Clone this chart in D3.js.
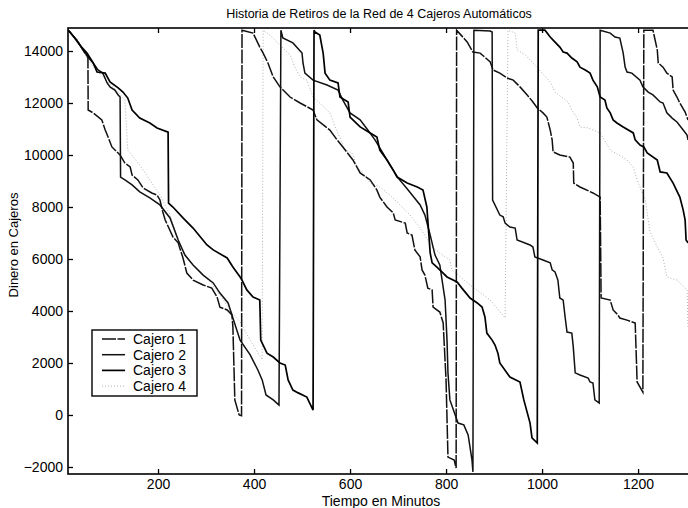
<!DOCTYPE html>
<html>
<head>
<meta charset="utf-8">
<script src="https://cdn.jsdelivr.net/npm/d3@7"></script>
<style>
  body { margin: 0; background: #fff; }
  svg { display: block; font-family: "Liberation Sans", Arial, sans-serif; }
</style>
</head>
<body>
<svg id="chart" width="688" height="508"></svg>
<script>
// Tick values and labels
const xTicks = [200, 400, 600, 800, 1000, 1200];
const yTicks = [-2000, 0, 2000, 4000, 6000, 8000, 10000, 12000, 14000];
const seriesNames = ['Cajero 1', 'Cajero 2', 'Cajero 3', 'Cajero 4'];

// [minuto, dinero]
const cajero1 = [
  [12.5, 14800], [31, 14420], [44, 14040], [54, 13770], [54.5, 11730], [65, 11620], [83, 11350],
  [90, 10960], [96, 10690], [104, 10310], [121, 10000], [131, 9690], [142, 9540], [146, 9230],
  [158, 9040], [169, 8730], [187, 8540], [198, 8460], [204, 8270], [210, 7810], [215, 7500],
  [231, 6850], [242, 6620], [252, 6040], [260, 5460], [273, 5190], [294, 5000], [312, 4880],
  [323, 4540], [329, 4150], [344, 4040], [354, 3850], [356, 3380], [360, 580], [369, 0],
  [374, -30], [375, 14800],
  [398, 14690], [412, 14150], [419, 13920], [429, 13540], [440, 13000], [454, 12620], [475, 12230],
  [496, 12000], [523, 11730], [531, 11350], [558, 10960], [573, 10580], [585, 10310], [606, 9810],
  [621, 9310], [642, 9040], [656, 8650], [662, 8380], [677, 8000], [690, 7770], [694, 7500],
  [715, 7380], [719, 7000], [729, 6920], [735, 6350], [746, 6080], [750, 5580], [756, 5380],
  [762, 4880], [771, 4810], [773, 4150], [787, 3960], [794, 3540], [800, 1350], [804, -1620],
  [817, -1730], [821, -2040], [822, 14800],
  [844, 14350], [856, 13960], [871, 13920], [892, 13580], [898, 13270], [912, 13150], [927, 12960],
  [940, 12880], [954, 12620], [969, 12310], [981, 12040], [990, 11810], [1002, 11620], [1010, 11460],
  [1017, 10960], [1021, 10580], [1023, 10120], [1037, 10000], [1058, 9920], [1065, 9690],
  [1066, 8920], [1079, 8770], [1106, 8540], [1121, 8380], [1123, 4500], [1142, 4420], [1148, 4040],
  [1158, 3850], [1162, 3730], [1177, 3650], [1194, 3540], [1198, 1270], [1210, 880], [1212, 14800],
  [1231, 14800], [1240, 14040], [1242, 13540], [1252, 13380], [1260, 13150], [1271, 13000],
  [1273, 12500], [1281, 12230], [1287, 12000], [1298, 11650], [1304, 11350]
];

const cajero2 = [
  [12.5, 14800], [31, 14420], [44, 14040], [54, 13770], [65, 13540], [75, 13270], [85, 13150],
  [94, 12770], [100, 12620], [110, 12500], [117, 12310], [121, 12230], [122, 9150], [131, 9040],
  [146, 8850], [162, 8580], [183, 8350], [204, 8080], [225, 7580], [242, 6730], [256, 6150],
  [273, 5770], [294, 5380], [315, 5080], [329, 4690], [346, 4310], [356, 3730], [371, 2880],
  [392, 2310], [408, 1730], [417, 1350], [425, 770], [440, 580], [452, 380], [456, 14800],
  [460, 14500], [481, 14310], [500, 13920], [502, 13540], [506, 13150], [523, 12880], [552, 12690],
  [575, 12500], [585, 12110], [600, 11620], [621, 11350], [637, 10960], [652, 10580], [667, 10120],
  [683, 9620], [700, 9120], [721, 8650], [746, 8080], [756, 7690], [767, 6920], [777, 6150],
  [787, 5770], [798, 4420], [802, 2880], [804, 1620], [808, 580], [825, -310], [837, -380],
  [846, -770], [854, -1730], [856, -2190], [858, 14800],
  [892, 14770], [896, 14730], [897, 8270], [912, 7690], [919, 7620], [923, 7380], [933, 7230],
  [944, 7190], [948, 6730], [975, 6540], [981, 6460], [985, 6080], [1002, 5960], [1017, 5850],
  [1021, 5580], [1027, 5500], [1033, 5190], [1037, 4500], [1044, 4420], [1048, 3770], [1052, 3190],
  [1062, 3150], [1065, 2620], [1069, 1620], [1079, 1540], [1096, 1420], [1100, 1270], [1106, 1230],
  [1110, 580], [1119, 460], [1121, 14800],
  [1142, 14690], [1152, 14540], [1162, 14500], [1169, 13920], [1173, 13380], [1177, 13190],
  [1187, 13150], [1204, 12880], [1210, 12620], [1221, 12420], [1231, 12310], [1246, 12040],
  [1252, 12000], [1260, 11620], [1271, 11420], [1281, 11270], [1294, 10960], [1302, 10770],
  [1304, 10580]
];

const cajero3 = [
  [12.5, 14800], [17, 14730], [37, 14230], [52, 13920], [65, 13540], [73, 13190], [90, 13150],
  [100, 12810], [117, 12580], [127, 12420], [137, 12190], [146, 11730], [162, 11420], [183, 11230],
  [198, 11040], [221, 10880], [222, 8150], [231, 8000], [252, 7580], [273, 7190], [302, 6540],
  [315, 6350], [344, 6040], [356, 5690], [371, 5310], [375, 5190], [385, 4810], [398, 4540],
  [412, 4420], [414, 2880], [427, 2380], [440, 2230], [454, 2000], [465, 1920], [471, 1350],
  [481, 960], [492, 850], [510, 690], [523, 190], [525, 14800],
  [527, 14730], [537, 14615], [544, 13920], [548, 13150], [558, 12880], [575, 12770], [579, 12230],
  [596, 12040], [600, 11460], [621, 11080], [642, 10850], [656, 10690], [662, 10190], [677, 9810],
  [690, 9420], [698, 9150], [719, 8920], [740, 8770], [752, 8650], [760, 8000], [767, 6230],
  [771, 5850], [781, 5690], [794, 5460], [802, 5310], [823, 5120], [833, 4880], [850, 4500],
  [865, 4310], [875, 4150], [881, 3770], [885, 3150], [896, 2880], [902, 2690], [908, 2380],
  [912, 2000], [933, 1460], [954, 1270], [962, 580], [975, -310], [979, -880], [990, -1080],
  [992, 14800],
  [1006, 14800], [1017, 14540], [1023, 14420], [1037, 14150], [1044, 13960], [1052, 13920],
  [1062, 13730], [1073, 13580], [1079, 13380], [1090, 13270], [1100, 13150], [1106, 12880],
  [1115, 12620], [1121, 12230], [1131, 12110], [1135, 11810], [1142, 11620], [1148, 11350],
  [1156, 11230], [1169, 11080], [1190, 10850], [1194, 10580], [1204, 10380], [1212, 10310],
  [1219, 10080], [1240, 9810], [1246, 9350], [1260, 9310], [1273, 8920], [1287, 8380],
  [1294, 7880], [1298, 7500], [1300, 6730], [1304, 6620]
];

const cajero4 = [
  [12.5, 14800], [37, 14230], [54, 13650], [75, 13190], [96, 12810], [117, 12420], [131, 12110],
  [137, 10190], [162, 9620], [183, 9040], [204, 8460], [225, 7690], [246, 6540], [267, 5880],
  [287, 5500], [308, 5120], [329, 4620], [350, 4040], [371, 3580], [392, 2880], [417, 2120],
  [419, 14800],
  [433, 14615], [454, 14230], [475, 13850], [485, 13380], [496, 13000], [510, 12880], [523, 12230],
  [537, 12000], [558, 11620], [569, 11080], [590, 10190], [604, 10080], [615, 9540], [627, 9310],
  [642, 8920], [662, 8770], [683, 8460], [704, 8080], [725, 7690], [746, 7190], [771, 6460],
  [787, 6230], [808, 5960], [812, 5580], [850, 5000], [892, 4420], [923, 3730], [929, 14800],
  [944, 14690], [948, 14040], [965, 13850], [985, 13460], [1017, 12810], [1027, 12420],
  [1054, 12040], [1062, 11730], [1073, 11420], [1079, 11080], [1096, 11040], [1121, 10850],
  [1142, 10190], [1177, 9810], [1190, 9540], [1198, 9040], [1215, 8270], [1225, 7040],
  [1240, 6460], [1252, 6040], [1260, 5310], [1281, 5190], [1302, 4810], [1304, 3380]
];

const seriesData = [cajero1, cajero2, cajero3, cajero4];
const seriesStyles = [
  { stroke: '#111', width: 1.5, dash: '14,1.5' },
  { stroke: '#111', width: 1.5, dash: null },
  { stroke: '#000', width: 1.7, dash: null },
  { stroke: '#b0b0b0', width: 1, dash: '1,2' }
];

const svg = d3.select('#chart');
const plotLeft = 68, plotRight = 690, plotTop = 28, plotBottom = 474;

const x = d3.scaleLinear().domain([12.5, 1304]).range([68, 688]);
const y = d3.scaleLinear().domain([-2270, 14885]).range([plotBottom, plotTop]);

// clip for the plot area
svg.append('clipPath').attr('id', 'plotClip')
  .append('rect')
  .attr('x', plotLeft).attr('y', plotTop)
  .attr('width', plotRight - plotLeft).attr('height', plotBottom - plotTop);

const line = d3.line()
  .x(d => x(d[0]))
  .y(d => y(d[1]));

const plot = svg.append('g').attr('clip-path', 'url(#plotClip)');

// draw dotted series first so the solid ones sit on top
[3, 0, 1, 2].forEach(i => {
  const st = seriesStyles[i];
  plot.append('path')
    .datum(seriesData[i])
    .attr('fill', 'none')
    .attr('stroke', st.stroke)
    .attr('stroke-width', st.width)
    .attr('stroke-dasharray', st.dash)
    .attr('d', line);
});

// axes, ticks inside like MATLAB
const xAxis = svg.append('g')
  .attr('transform', `translate(0, ${plotBottom})`)
  .call(d3.axisBottom(x).tickValues(xTicks).tickSize(-5).tickPadding(5).tickFormat(d3.format('d')));

const yAxis = svg.append('g')
  .attr('transform', `translate(${plotLeft}, 0)`)
  .call(d3.axisLeft(y).tickValues(yTicks).tickSize(-5).tickPadding(5).tickFormat(d3.format('d')));

const xTop = svg.append('g')
  .attr('transform', `translate(0, ${plotTop})`)
  .call(d3.axisTop(x).tickValues(xTicks).tickSize(-5).tickFormat(''));

[xAxis, yAxis, xTop].forEach(g => {
  g.select('.domain').remove();
  g.selectAll('line').attr('stroke', '#000').attr('stroke-width', 1.3);
  g.selectAll('text')
    .style('font-size', '14px')
    .style('font-family', '"Liberation Sans", Arial, sans-serif')
    .attr('fill', '#000');
});

// frame
svg.append('rect')
  .attr('x', plotLeft).attr('y', plotTop)
  .attr('width', plotRight - plotLeft).attr('height', plotBottom - plotTop)
  .attr('fill', 'none')
  .attr('stroke', '#000')
  .attr('stroke-width', 1.6);

// title and axis labels
svg.append('text')
  .attr('x', 379).attr('y', 18)
  .attr('text-anchor', 'middle')
  .style('font-size', '12.5px')
  .text('Historia de Retiros de la Red de 4 Cajeros Automáticos');

svg.append('text')
  .attr('x', 381).attr('y', 506)
  .attr('text-anchor', 'middle')
  .style('font-size', '14px')
  .text('Tiempo en Minutos');

svg.append('text')
  .attr('transform', 'translate(18, 245) rotate(-90)')
  .attr('text-anchor', 'middle')
  .style('font-size', '13px')
  .text('Dinero en Cajeros');

// legend
const legend = svg.append('g').attr('transform', 'translate(92, 330)');
legend.append('rect')
  .attr('width', 105).attr('height', 66)
  .attr('fill', '#fff')
  .attr('stroke', '#000')
  .attr('stroke-width', 1.4);

seriesNames.forEach((name, i) => {
  const st = seriesStyles[i];
  const ly = 9 + i * 15.7;
  legend.append('line')
    .attr('x1', 10).attr('x2', 33)
    .attr('y1', ly).attr('y2', ly)
    .attr('stroke', st.stroke)
    .attr('stroke-width', st.width)
    .attr('stroke-dasharray', st.dash);
  legend.append('text')
    .attr('x', 41).attr('y', ly + 5)
    .style('font-size', '14px')
    .text(name);
});
</script>
</body>
</html>
